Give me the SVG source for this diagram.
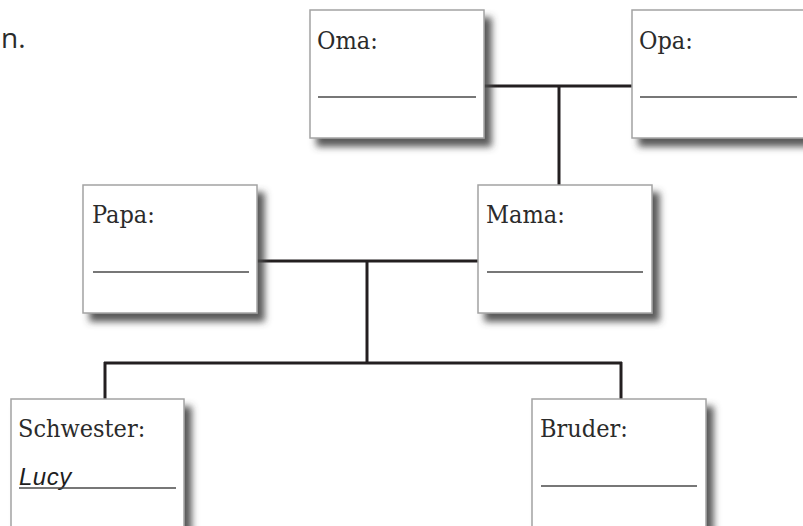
<svg xmlns="http://www.w3.org/2000/svg" width="803" height="526" viewBox="0 0 803 526">
  <style>
    .box { fill: #ffffff; stroke: #a3a3a3; stroke-width: 1.5; filter: url(#shadow); }
    .label { font-family: "DejaVu Serif Condensed", "DejaVu Serif", serif; font-size: 25px; fill: #2b2b2b; }
    .blank { stroke: #4a4a4a; stroke-width: 1.6; }
    .conn { stroke: #231f20; stroke-width: 3; fill: none; }
    .hand { font-family: "Liberation Sans", sans-serif; font-style: italic; font-size: 24px; fill: #1e1e1e; letter-spacing: 0.5px; }
  </style>
  <defs>
    <filter id="shadow" x="-10%" y="-10%" width="130%" height="130%">
      <feDropShadow dx="7" dy="8" stdDeviation="3.5" flood-color="#4a4a4a" flood-opacity="0.9"/>
    </filter>
  </defs>
  <rect width="803" height="526" fill="#ffffff"/>
  <text x="1" y="48" font-family="Open Sans, sans-serif" font-size="28" fill="#2b2b2b">n.</text>

  <g id="connectors">
    <line class="conn" x1="484" y1="86" x2="632" y2="86"/>
    <line class="conn" x1="559" y1="86" x2="559" y2="185"/>
    <line class="conn" x1="257" y1="261" x2="478" y2="261"/>
    <line class="conn" x1="367" y1="261" x2="367" y2="363"/>
    <line class="conn" x1="104" y1="363" x2="622" y2="363"/>
    <line class="conn" x1="105" y1="362" x2="105" y2="399"/>
    <line class="conn" x1="621" y1="362" x2="621" y2="399"/>
  </g>

  <g id="oma">
    <rect class="box" x="310" y="10" width="174" height="128"/>
    <text class="label" x="317" y="49">Oma:</text>
    <line class="blank" x1="318" y1="97" x2="476" y2="97"/>
  </g>
  <g id="opa">
    <rect class="box" x="632" y="10" width="180" height="128"/>
    <text class="label" x="639" y="49">Opa:</text>
    <line class="blank" x1="640" y1="97" x2="797" y2="97"/>
  </g>
  <g id="papa">
    <rect class="box" x="83" y="185" width="174" height="128"/>
    <text class="label" x="92" y="223">Papa:</text>
    <line class="blank" x1="93" y1="272" x2="249" y2="272"/>
  </g>
  <g id="mama">
    <rect class="box" x="478" y="185" width="174" height="128"/>
    <text class="label" x="486" y="223">Mama:</text>
    <line class="blank" x1="487" y1="272" x2="643" y2="272"/>
  </g>
  <g id="schwester">
    <rect class="box" x="11" y="399" width="173" height="150"/>
    <text class="label" x="18" y="437">Schwester:</text>
    <text class="hand" x="19" y="485">Lucy</text>
    <line class="blank" x1="19" y1="488" x2="176" y2="488"/>
  </g>
  <g id="bruder">
    <rect class="box" x="532" y="399" width="174" height="150"/>
    <text class="label" x="540" y="437">Bruder:</text>
    <line class="blank" x1="541" y1="486" x2="697" y2="486"/>
  </g>
</svg>
